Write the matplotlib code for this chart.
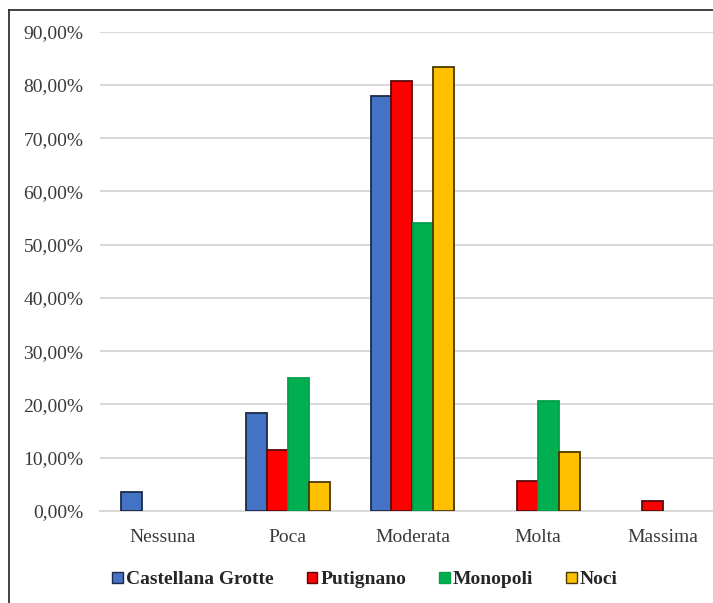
import matplotlib
matplotlib.use("Agg")
import matplotlib.pyplot as plt
from matplotlib.lines import Line2D
from matplotlib.ticker import FuncFormatter, MultipleLocator
import numpy as np

plt.rcParams['font.family'] = ['Liberation Serif', 'DejaVu Serif']

livelli = ['Nessuna', 'Poca', 'Moderata', 'Molta', 'Massima']
comuni = ['Castellana Grotte', 'Putignano', 'Monopoli', 'Noci']

castellana = [3.6, 18.4, 77.9, 0.0, 0.0]
putignano = [0.0, 11.5, 80.8, 5.6, 1.9]
monopoli = [0.0, 25.0, 54.1, 20.7, 0.0]
noci = [0.0, 5.5, 83.3, 11.0, 0.0]

serie = [castellana, putignano, monopoli, noci]
colori = ['#4472C4', '#FF0000', '#00B050', '#FFC000']
bordi = ['#1c2a4a', '#5a0a0a', '#00A04a', '#4a3800']

W, H = 713, 603
fig = plt.figure(figsize=(W / 100, H / 100), dpi=100)
ax = fig.add_axes([100 / W, 1 - 511 / H, 625 / W, (511 - 31.7) / H])

x = np.arange(len(livelli))
bw = 0.168
for i, (vals, c, ec, nome) in enumerate(zip(serie, colori, bordi, comuni)):
    off = (i - 1.5) * bw
    xs = [xx + off for xx, v in zip(x, vals) if v > 0]
    hs = [v for v in vals if v > 0]
    ax.bar(xs, hs, bw, color=c, edgecolor=ec, linewidth=1.3, zorder=3)
    # proxy handle for the legend
    ax.bar([0], [0], 0, color=c, edgecolor=ec, linewidth=1.0, label=nome)

ax.set_xlim(-0.5, len(livelli) - 0.5)
ax.set_ylim(0, 90)
ax.yaxis.set_major_locator(MultipleLocator(10))
ax.yaxis.set_major_formatter(FuncFormatter(lambda v, p: ('%.2f%%' % v).replace('.', ',')))
ax.set_xticks(x)
ax.set_xticklabels(livelli)
ax.tick_params(axis='both', length=0, labelsize=14, labelcolor='#3a3a3a')
ax.tick_params(axis='y', pad=12)
ax.tick_params(axis='x', pad=13)
ax.grid(axis='y', color='#d9d9d9', linewidth=1.5, zorder=0)
ax.set_axisbelow(True)
for s in ['top', 'right', 'left']:
    ax.spines[s].set_visible(False)
ax.spines['bottom'].set_color('#d9d9d9')
ax.spines['bottom'].set_linewidth(1.5)

fig.legend(loc='center', bbox_to_anchor=(0.512, 1 - 580 / H), ncol=4, frameon=False,
           prop={'weight': 'bold', 'size': 14}, handlelength=0.55, handleheight=0.55,
           handletextpad=0.15, columnspacing=1.7, labelcolor='#262626')

# outer chart border
fig.add_artist(Line2D([9 / W, 9 / W], [0, 1 - 10 / H], color='#333333', linewidth=1.3))
fig.add_artist(Line2D([9 / W, 1], [1 - 10 / H, 1 - 10 / H], color='#333333', linewidth=1.3))

fig.savefig('out.png', dpi=100)
